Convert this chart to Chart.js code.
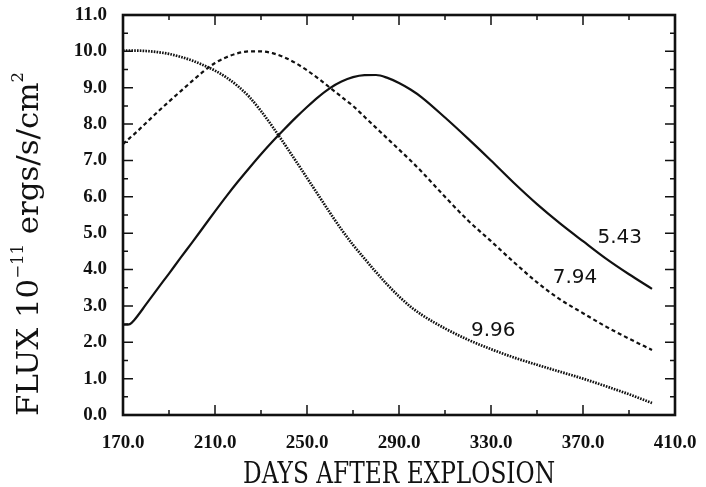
<!DOCTYPE html>
<html>
<head>
<meta charset="utf-8">
<script src="https://cdn.jsdelivr.net/npm/chart.js@4/dist/chart.umd.min.js"></script>
<style>
  html, body { margin: 0; padding: 0; background: #fff; }
  #wrap { width: 706px; height: 487px; }
</style>
</head>
<body>
<div id="wrap"><canvas id="myChart" width="706" height="487"></canvas></div>
<script>
// days after explosion (shared x grid for the three curves)
var days = [170, 173, 175, 180, 185, 190, 195, 200, 205, 210, 215, 220, 225, 230, 235, 240, 245, 250, 255, 260, 265,
            270, 275, 280, 285, 290, 295, 300, 310, 320, 330, 340, 350, 360, 370, 380, 390, 400];

// curve labelled 5.43 (solid)
var flux543 = [2.48, 2.5, 2.62, 3.04, 3.47, 3.89, 4.32, 4.74, 5.17, 5.6, 6.02, 6.42, 6.8, 7.17, 7.52, 7.85, 8.17, 8.47, 8.75, 8.99, 9.17,
               9.29, 9.345, 9.35, 9.27, 9.13, 8.95, 8.73, 8.18, 7.6, 7.0, 6.38, 5.8, 5.27, 4.78, 4.3, 3.87, 3.47];
// curve labelled 7.94 (dashed)
var flux794 = [7.45, 7.62, 7.73, 8.03, 8.33, 8.62, 8.9, 9.18, 9.45, 9.68, 9.84, 9.95, 10.0, 10.0, 9.95, 9.84, 9.68, 9.48, 9.25, 9.0, 8.75,
               8.5, 8.2, 7.9, 7.6, 7.3, 7.0, 6.68, 6.0, 5.35, 4.78, 4.2, 3.65, 3.18, 2.8, 2.43, 2.1, 1.79];
// curve labelled 9.96 (dotted)
var flux996 = [10.02, 10.02, 10.02, 10.01, 9.98, 9.93, 9.85, 9.75, 9.62, 9.47, 9.28, 9.04, 8.74, 8.36, 7.93, 7.47, 7.0, 6.52, 6.04, 5.56, 5.1,
               4.68, 4.3, 3.93, 3.58, 3.26, 2.98, 2.75, 2.38, 2.07, 1.81, 1.58, 1.38, 1.19, 1.0, 0.79, 0.57, 0.33];

// curve labels and where they sit (day, flux)
var curveNames = ['5.43', '7.94', '9.96'];
var nameDays = [386, 366.5, 331];
var nameFlux = [4.87, 3.77, 2.31];

var xTitle = 'DAYS AFTER EXPLOSION';

function pts(ys) {
    return days.map(function(d, i) { return {x: d, y: ys[i]}; });
}

var ink = '#111';

// frame, inward ticks, axis titles and curve labels
var decor = {
    id: 'decor',
    afterDraw: function(chart) {
        var c = chart.ctx, a = chart.chartArea;
        var xs = chart.scales.x, ys = chart.scales.y;
        c.save();
        c.strokeStyle = ink;
        c.lineWidth = 1.5;
        c.beginPath();
        // x ticks: major every 40, minor every 20
        for (var d = 170; d <= 410; d += 20) {
            var px = xs.getPixelForValue(d);
            var len = ((d - 170) % 40 === 0) ? 10 : 5;
            c.moveTo(px, a.bottom); c.lineTo(px, a.bottom - len);
            c.moveTo(px, a.top); c.lineTo(px, a.top + len);
        }
        // y ticks: major every 1, minor every 0.5
        for (var k = 0; k <= 22; k++) {
            var py = ys.getPixelForValue(k / 2);
            var l2 = (k % 2 === 0) ? 10 : 5;
            c.moveTo(a.left, py); c.lineTo(a.left + l2, py);
            c.moveTo(a.right, py); c.lineTo(a.right - l2, py);
        }
        c.stroke();
        c.lineWidth = 2.6;
        c.strokeRect(a.left, a.top, a.right - a.left, a.bottom - a.top);

        c.fillStyle = ink;
        // x title, squeezed to the width of the original
        c.font = '30px "DejaVu Serif"';
        c.textBaseline = 'alphabetic';
        var w = c.measureText(xTitle).width;
        c.save();
        c.translate(399 - 156, 483);
        c.scale(312 / w, 1);
        c.fillText(xTitle, 0, 0);
        c.restore();

        // y title with superscripts
        var parts = [['FLUX 10', 30, 0], ['\u221211', 16, 15], [' ergs/s/cm', 30, 0], ['2', 16, 15]];
        var total = 0;
        parts.forEach(function(p) { c.font = p[1] + 'px "DejaVu Serif"'; total += c.measureText(p[0]).width; });
        c.save();
        c.translate(38, 416);
        c.rotate(-Math.PI / 2);
        c.scale(344 / total, 1);
        var pos = 0;
        parts.forEach(function(p) {
            c.font = p[1] + 'px "DejaVu Serif"';
            c.fillText(p[0], pos, -p[2]);
            pos += c.measureText(p[0]).width;
        });
        c.restore();

        // curve labels
        c.font = '20px "DejaVu Sans"';
        c.textAlign = 'center';
        c.textBaseline = 'middle';
        curveNames.forEach(function(n, i) {
            c.fillText(n, xs.getPixelForValue(nameDays[i]), ys.getPixelForValue(nameFlux[i]));
        });
        c.restore();
    }
};

var tickFont = {family: '"Liberation Serif"', size: 19, weight: 'bold'};

var ctx = document.getElementById('myChart').getContext('2d');
var chart = new Chart(ctx, {
    type: 'line',
    data: {
        datasets: [{
            label: '5.43',
            data: pts(flux543),
            borderColor: ink,
            borderWidth: 2.2,
            pointRadius: 0,
            cubicInterpolationMode: 'monotone',
            fill: false
        }, {
            label: '7.94',
            data: pts(flux794),
            borderColor: ink,
            borderWidth: 2.2,
            borderDash: [4, 3],
            pointRadius: 0,
            cubicInterpolationMode: 'monotone',
            fill: false
        }, {
            label: '9.96',
            data: pts(flux996),
            borderColor: ink,
            borderWidth: 2.7,
            borderDash: [1.6, 1.2],
            pointRadius: 0,
            cubicInterpolationMode: 'monotone',
            fill: false
        }]
    },
    options: {
        responsive: false,
        animation: false,
        devicePixelRatio: 1,
        layout: {padding: {top: 15, right: 31, left: 0, bottom: 0}},
        plugins: {legend: {display: false}, tooltip: {enabled: false}},
        scales: {
            x: {
                type: 'linear',
                min: 170, max: 410,
                grid: {display: false, drawTicks: false},
                border: {display: false},
                ticks: {
                    stepSize: 40,
                    padding: 17,
                    color: ink,
                    font: tickFont,
                    maxRotation: 0,
                    callback: function(v) { return v.toFixed(1); }
                },
                afterFit: function(s) { s.height = 72; s.paddingLeft = 0; s.paddingRight = 0; }
            },
            y: {
                min: 0, max: 11,
                grid: {display: false, drawTicks: false},
                border: {display: false},
                ticks: {
                    stepSize: 1,
                    padding: 16,
                    color: ink,
                    font: tickFont,
                    callback: function(v) { return v.toFixed(1); }
                },
                afterFit: function(s) { s.width = 123; s.paddingTop = 0; s.paddingBottom = 0; }
            }
        }
    },
    plugins: [decor]
});
</script>
</body>
</html>
